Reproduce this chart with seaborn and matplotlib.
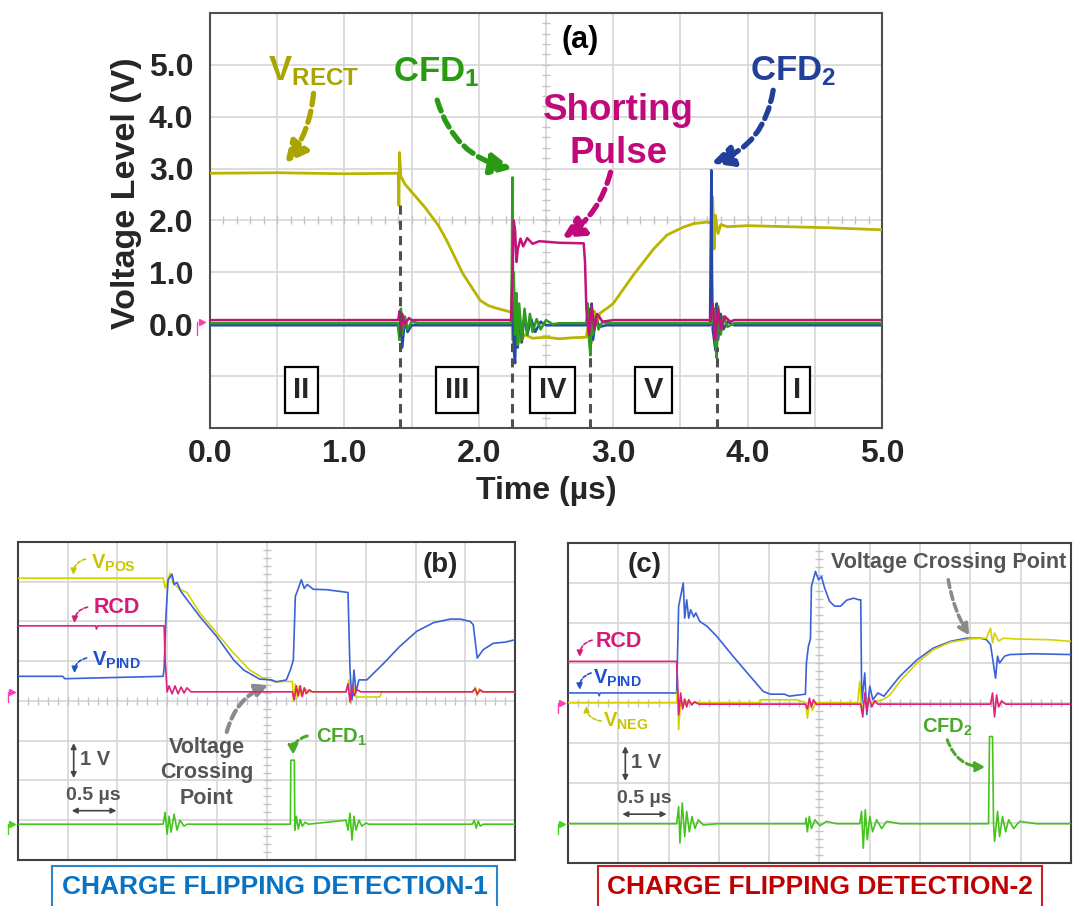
import numpy as np
import pandas as pd
import matplotlib
matplotlib.use("Agg")
import matplotlib.pyplot as plt
import matplotlib.transforms as mtransforms
import seaborn as sns

# ---------------- panel (a): time (us) / voltage (V) ----------------
a_rect_t = [0.00, 0.50, 1.00, 1.40, 1.405, 1.41, 1.42, 1.45, 1.51, 1.60, 1.70, 1.76, 1.82, 1.88,
            1.95, 2.01, 2.07, 2.13, 2.23, 2.245, 2.25, 2.26, 2.27, 2.29, 2.31, 2.34, 2.40, 2.50,
            2.60, 2.70, 2.80, 2.82, 2.84, 2.86, 2.88, 2.90, 2.95, 3.00, 3.15, 3.30, 3.40, 3.52,
            3.60, 3.70, 3.73, 3.74, 3.75, 3.76, 3.78, 3.80, 3.85, 4.00, 4.30, 4.60, 4.80, 5.00]
a_rect_v = [2.91, 2.92, 2.90, 2.91, 2.29, 3.31, 2.85, 2.70, 2.52, 2.25, 1.90, 1.62, 1.30, 0.98,
            0.70, 0.46, 0.36, 0.31, 0.24, 0.22, -0.30, 0.10, -0.45, -0.10, -0.35, -0.20, -0.27, -0.25,
            -0.28, -0.26, -0.25, 0.10, -0.35, 0.25, 0.00, 0.21, 0.30, 0.40, 0.95, 1.45, 1.72, 1.87,
            1.94, 1.97, 1.95, 2.45, 1.45, 2.10, 1.75, 1.92, 1.88, 1.90, 1.88, 1.86, 1.84, 1.82]

a_pulse_t = [0.00, 1.40, 1.41, 1.42, 1.43, 1.45, 1.48, 1.50, 2.24, 2.25, 2.26, 2.27, 2.28, 2.29,
             2.31, 2.33, 2.36, 2.40, 2.45, 2.60, 2.78, 2.79, 2.80, 2.82, 2.84, 2.86, 2.88, 2.92,
             3.00, 3.72, 3.74, 3.76, 3.78, 3.80, 3.83, 3.87, 3.90, 5.00]
a_pulse_v = [0.08, 0.08, 0.25, -0.15, 0.20, 0.00, 0.12, 0.08, 0.08, 1.00, 2.00, 1.80, 1.20, 1.45,
             1.65, 1.50, 1.66, 1.55, 1.60, 1.57, 1.56, 1.20, 0.30, -0.20, 0.35, -0.10, 0.20, 0.05,
             0.08, 0.08, 0.40, -0.30, 0.30, -0.10, 0.15, 0.05, 0.08, 0.08]

a_cfd1_t = [0.00, 1.40, 1.41, 1.42, 1.43, 1.45, 1.47, 1.50, 1.55, 2.24, 2.245, 2.25, 2.255, 2.26,
            2.27, 2.28, 2.29, 2.30, 2.32, 2.34, 2.36, 2.38, 2.40, 2.43, 2.46, 2.50, 2.55, 2.60,
            2.80, 2.81, 2.82, 2.83, 2.84, 2.85, 2.87, 2.89, 2.92, 2.95, 3.74, 3.75, 3.76, 3.77,
            3.78, 3.80, 3.82, 3.85, 3.90, 5.00]
a_cfd1_v = [0.02, 0.02, -0.30, 0.30, -0.20, 0.15, -0.10, 0.05, 0.02, 0.02, 1.00, 2.83, 0.50, 1.00,
            -0.20, 0.60, -0.40, 0.40, -0.30, 0.30, -0.20, 0.20, -0.15, 0.10, -0.10, 0.08, 0.00, 0.02,
            0.02, 0.40, -0.30, -0.60, 0.35, -0.20, 0.15, -0.10, 0.05, 0.02, 0.02, 0.30, -0.40, -0.65,
            0.35, -0.20, 0.15, -0.05, 0.02, 0.02]

a_cfd2_t = [0.00, 1.40, 1.41, 1.42, 1.43, 1.45, 1.47, 1.50, 2.24, 2.25, 2.26, 2.27, 2.28, 2.29,
            2.30, 2.32, 2.34, 2.36, 2.39, 2.42, 2.46, 2.50, 2.80, 2.82, 2.83, 2.84, 2.85, 2.87,
            2.90, 2.95, 3.72, 3.725, 3.73, 3.735, 3.74, 3.76, 3.77, 3.78, 3.80, 3.82, 3.85, 3.90, 5.00]
a_cfd2_v = [-0.02, -0.02, -0.30, 0.25, -0.45, 0.10, -0.15, -0.02, -0.02, 0.50, -0.50, -0.75, 0.30, -0.45,
            0.25, -0.35, 0.20, -0.20, 0.10, -0.15, 0.05, -0.02, -0.02, 0.30, -0.55, 0.40, -0.30, 0.10,
            -0.05, -0.02, -0.02, 1.50, 2.97, 1.00, -0.10, -0.50, 0.40, -0.30, 0.20, -0.10, 0.05, -0.02, -0.02]

a_split_t = [1.41, 2.25, 2.83, 3.77]
a_split_top = [2.29, -0.37, -0.64, -0.44]
a_regions = ["II", "III", "IV", "V", "I"]
a_region_t = [0.68, 1.84, 2.55, 3.30, 4.37]
a_xticks = [0.0, 1.0, 2.0, 3.0, 4.0, 5.0]
a_yticks = [0.0, 1.0, 2.0, 3.0, 4.0, 5.0]

# ---------------- panel (b): time (us) / volts, 1 V per div ----------------
b_pos_t = [0.00, 1.46, 1.48, 1.50, 1.53, 1.56, 1.63, 1.70, 1.83, 2.00, 2.17, 2.33, 2.47, 2.57,
           2.76, 2.77, 2.79, 2.81, 2.83, 2.85, 2.88, 2.92, 3.30, 3.33, 3.35, 3.37, 3.40, 3.45,
           3.64, 3.66, 4.58, 4.60, 4.62, 4.64, 4.66, 5.00]
b_pos_v = [2.86, 2.86, 2.61, 2.75, 2.99, 2.74, 2.57, 2.50, 1.98, 1.48, 0.97, 0.55, 0.34, 0.26,
           0.26, -0.25, 0.20, -0.15, 0.15, -0.10, 0.10, 0.00, 0.00, 0.30, -0.30, 0.20, -0.13, -0.13,
           -0.13, 0.00, 0.00, 0.12, -0.10, 0.08, 0.00, 0.00]

b_pind_t = [0.00, 0.45, 0.47, 1.46, 1.47, 1.49, 1.51, 1.55, 1.57, 1.60, 1.64, 1.83, 2.00, 2.17,
            2.27, 2.43, 2.55, 2.60, 2.70, 2.74, 2.77, 2.79, 2.82, 2.85, 2.88, 2.91, 2.97, 3.10,
            3.32, 3.34, 3.36, 3.38, 3.40, 3.43, 3.51, 3.68, 3.84, 4.01, 4.18, 4.35, 4.45, 4.55,
            4.58, 4.62, 4.68, 4.78, 4.90, 5.00]
b_pind_v = [0.39, 0.39, 0.33, 0.39, 0.60, 2.00, 2.82, 2.96, 2.70, 2.75, 2.52, 1.89, 1.39, 0.80,
            0.55, 0.32, 0.30, 0.25, 0.30, 0.55, 0.80, 2.40, 2.60, 2.82, 2.60, 2.70, 2.58, 2.57,
            2.50, 0.55, -0.20, 0.55, 0.00, 0.30, 0.30, 0.72, 1.14, 1.52, 1.74, 1.83, 1.83, 1.77,
            1.69, 0.85, 1.06, 1.22, 1.25, 1.31]

b_rcd_t = [0.00, 0.78, 0.79, 0.80, 1.47, 1.48, 1.50, 1.52, 1.55, 1.58, 1.61, 1.64, 1.67, 1.70,
           1.74, 1.80, 2.76, 2.78, 2.80, 2.82, 2.84, 2.86, 2.88, 2.90, 2.93, 2.96, 3.00, 3.30,
           3.32, 3.34, 3.36, 3.38, 3.41, 3.45, 4.57, 4.60, 4.62, 4.65, 4.68, 5.00]
b_rcd_v = [1.66, 1.66, 1.58, 1.66, 1.66, 0.80, 0.00, 0.15, -0.05, 0.15, -0.05, 0.12, -0.03, 0.10,
           0.00, 0.00, 0.00, -0.20, 0.15, -0.10, 0.15, -0.12, 0.10, -0.05, 0.05, 0.00, 0.00, 0.00,
           0.20, -0.25, 0.15, -0.10, 0.05, 0.00, 0.00, 0.08, -0.06, 0.05, 0.00, 0.00]

b_cfd_t = [0.00, 1.46, 1.48, 1.50, 1.52, 1.54, 1.57, 1.60, 1.63, 1.67, 1.70, 2.74, 2.745, 2.78,
           2.785, 2.80, 2.82, 2.84, 2.86, 2.89, 2.92, 3.30, 3.32, 3.34, 3.36, 3.38, 3.40, 3.43,
           3.46, 3.50, 3.53, 4.57, 4.59, 4.61, 4.63, 4.65, 4.68, 5.00]
b_cfd_v = [0.00, 0.00, 0.30, -0.25, 0.20, -0.20, 0.25, -0.15, 0.10, -0.05, 0.00, 0.00, 1.61, 1.61,
           -0.15, 0.20, -0.12, 0.12, -0.05, 0.05, 0.00, 0.10, -0.15, 0.28, -0.40, 0.20, -0.15, 0.10,
           -0.05, 0.03, 0.00, 0.00, 0.10, -0.10, 0.08, -0.05, 0.00, 0.00]

# ---------------- panel (c) ----------------
c_rcd_t = [0.00, 1.08, 1.09, 1.10, 1.12, 1.14, 1.16, 1.18, 1.20, 1.23, 1.26, 1.30, 2.36, 2.38,
           2.40, 2.42, 2.44, 2.47, 2.50, 2.91, 2.93, 2.95, 2.97, 2.99, 3.02, 3.05, 3.08, 3.12,
           4.20, 4.22, 4.24, 4.26, 4.28, 4.31, 4.35, 5.00]
c_rcd_v = [1.04, 1.04, 0.50, -0.30, 0.25, -0.15, 0.10, -0.10, 0.08, -0.05, 0.03, -0.03, -0.03, -0.15,
           0.12, -0.10, 0.08, -0.04, -0.03, -0.03, -0.35, 0.25, -0.20, 0.15, -0.10, 0.06, -0.03, -0.03,
           -0.03, 0.25, -0.35, 0.20, -0.10, 0.05, -0.03, -0.03]

c_pind_t = [0.00, 0.30, 0.31, 0.32, 1.08, 1.10, 1.12, 1.146, 1.16, 1.18, 1.20, 1.22, 1.25, 1.27,
            1.31, 1.38, 1.478, 1.64, 1.81, 1.94, 2.01, 2.15, 2.20, 2.36, 2.37, 2.39, 2.41, 2.42,
            2.46, 2.49, 2.52, 2.55, 2.60, 2.65, 2.71, 2.77, 2.84, 2.89, 2.91, 2.92, 2.95, 2.97,
            3.00, 3.03, 3.08, 3.14, 3.30, 3.47, 3.63, 3.80, 3.96, 4.10, 4.16, 4.20, 4.25, 4.27,
            4.29, 4.34, 4.39, 4.62, 5.00]
c_pind_v = [0.25, 0.25, 0.18, 0.25, 0.25, 2.42, 2.67, 3.00, 2.12, 2.58, 2.12, 2.33, 2.15, 2.25,
            2.04, 1.92, 1.67, 1.17, 0.67, 0.29, 0.22, 0.22, 0.17, 0.22, 1.00, 1.42, 1.60, 2.92,
            3.29, 3.08, 3.16, 2.88, 2.54, 2.42, 2.42, 2.57, 2.62, 2.58, 2.58, 0.00, 0.75, -0.29,
            0.42, 0.08, 0.25, 0.17, 0.67, 1.08, 1.37, 1.54, 1.62, 1.62, 1.58, 1.46, 0.62, 1.17,
            1.00, 1.17, 1.21, 1.23, 1.21]

c_neg_t = [0.00, 1.08, 1.09, 1.10, 1.12, 1.14, 1.17, 1.20, 1.91, 1.92, 2.27, 2.36, 2.38, 2.40,
           2.43, 2.46, 2.88, 2.90, 2.92, 2.95, 3.00, 3.13, 3.20, 3.30, 3.47, 3.63, 3.80, 3.99,
           4.16, 4.20, 4.22, 4.24, 4.28, 4.33, 4.45, 4.80, 5.00]
c_neg_v = [0.01, 0.01, 0.33, -0.67, 0.10, -0.10, 0.05, 0.01, 0.01, 0.08, 0.08, 0.01, -0.38, 0.05,
           -0.18, 0.01, 0.01, 0.54, -0.18, 0.08, 0.01, 0.08, 0.20, 0.54, 1.00, 1.33, 1.52, 1.60,
           1.62, 1.87, 1.50, 1.75, 1.55, 1.62, 1.60, 1.58, 1.54]

c_cfd_t = [0.00, 1.08, 1.10, 1.113, 1.136, 1.16, 1.18, 1.206, 1.233, 1.262, 1.295, 1.345, 1.478,
           2.36, 2.366, 2.379, 2.399, 2.42, 2.455, 2.505, 2.57, 2.67, 2.90, 2.918, 2.935, 2.955,
           2.975, 3.00, 3.028, 3.068, 3.118, 3.168, 3.30, 4.18, 4.19, 4.22, 4.23, 4.24, 4.27,
           4.29, 4.32, 4.35, 4.38, 4.43, 4.49, 4.66, 5.00]
c_cfd_v = [0.00, 0.00, 0.43, -0.48, 0.52, -0.32, 0.31, -0.20, 0.18, -0.12, 0.10, -0.03, 0.00,
           0.00, 0.14, -0.20, 0.18, -0.12, 0.10, -0.05, 0.06, 0.00, 0.00, 0.31, -0.61, 0.35,
           -0.40, 0.18, -0.20, 0.10, -0.12, 0.06, 0.00, 0.00, 2.18, 2.18, 0.00, -0.44, 0.31,
           -0.32, 0.18, -0.20, 0.10, -0.12, 0.06, 0.00, 0.00]

# ---------------- style ----------------
sns.set_style("white")
plt.rcParams["font.family"] = ["Liberation Sans", "DejaVu Sans"]
plt.rcParams["font.weight"] = "bold"
plt.rcParams["mathtext.fontset"] = "custom"
plt.rcParams["mathtext.rm"] = "Liberation Sans:bold"
plt.rcParams["mathtext.it"] = "Liberation Sans:bold"
plt.rcParams["mathtext.bf"] = "Liberation Sans:bold"

GRID = "#d6d6d6"
GRAY = "#555555"


def draw_trace(ax, t, v, color, lw, offset=0.0, z=3):
    df = pd.DataFrame({"t": t, "v": np.asarray(v, dtype=float) + offset})
    sns.lineplot(data=df, x="t", y="v", ax=ax, color=color, lw=lw,
                 sort=False, estimator=None, zorder=z)


def scope_frame(ax, ylo, yhi, yc, edge):
    ax.set_xlim(0, 5)
    ax.set_ylim(ylo, yhi)
    ax.set_xticks(np.arange(0, 5.01, 0.5))
    ax.set_yticks(np.arange(ylo, yhi + 0.01, 1.0))
    ax.grid(True, color=GRID, lw=1.2, zorder=0)
    ax.tick_params(length=0)
    for s in ax.spines.values():
        s.set_color(edge)
        s.set_linewidth(1.5)
    # scope centre-line marks
    xs = np.arange(0.1, 5.0, 0.1)
    ax.plot(xs, np.full(len(xs), yc), ls="none", marker="|", ms=6, color="#c4c4c4", zorder=1)
    ys = np.arange(ylo + 0.2, yhi, 0.2)
    ax.plot(np.full(len(ys), 2.5), ys, ls="none", marker="_", ms=6, color="#c4c4c4", zorder=1)


def ground(ax, y, color):
    tr = mtransforms.blended_transform_factory(ax.transAxes, ax.transData)
    ax.plot([-0.012], [y], marker=">", ms=5, color=color, transform=tr, clip_on=False)
    ax.plot([-0.02, -0.02], [y, y - 0.25], color=color, lw=1, transform=tr, clip_on=False)


def curved(ax, text_xy, tip_xy, color, rad, lw, ms):
    ax.annotate("", xy=tip_xy, xytext=text_xy,
                arrowprops=dict(arrowstyle="-|>", color=color, lw=lw, ls=(0, (2.2, 1.2)),
                                connectionstyle=f"arc3,rad={rad}", mutation_scale=ms,
                                shrinkA=0, shrinkB=0))


fig = plt.figure(figsize=(10.86, 9.06), dpi=100)

# ================= (a) =================
ax = fig.add_axes([0.1934, 0.5276, 0.6188, 0.4581])
scope_frame(ax, -2, 6, 2.0, "#505050")
draw_trace(ax, a_rect_t, a_rect_v, "#b8b400", 2.0, z=3)
draw_trace(ax, a_cfd2_t, a_cfd2_v, "#2447a8", 1.8, z=4)
draw_trace(ax, a_cfd1_t, a_cfd1_v, "#2e9c1c", 1.8, z=5)
draw_trace(ax, a_pulse_t, a_pulse_v, "#c4127c", 1.8, z=6)
ground(ax, 0.05, "#ff3fb0")

xt = np.arange(0, 5.01, 0.5)
ax.set_xticklabels([f"{x:.1f}" if x in a_xticks else "" for x in xt],
                   fontsize=23, fontweight="bold")
yt = np.arange(-2, 6.01, 1.0)
ax.set_yticklabels([f"{y:.1f}" if y in a_yticks else "" for y in yt],
                   fontsize=23, fontweight="bold")
ax.tick_params(axis="x", pad=8)
ax.tick_params(axis="y", pad=12)
ax.set_xlabel("Time (µs)", fontsize=23, fontweight="bold", labelpad=5)
ax.set_ylabel("Voltage Level (V)", fontsize=24.5, fontweight="bold")
ax.yaxis.set_label_coords(-0.101, 0.566)

ax.vlines(a_split_t, -2, a_split_top, colors="#505050", linestyles=(0, (3, 2)), lw=2.2, zorder=7)
for lab, tc in zip(a_regions, a_region_t):
    ax.text(tc, -1.27, lab, ha="center", va="center", fontsize=21, fontweight="bold",
            bbox=dict(boxstyle="square,pad=0.3", fc="white", ec="black", lw=1.6), zorder=8)

ax.text(2.75, 5.47, "(a)", ha="center", va="center", fontsize=22, fontweight="bold", color="black")
ax.text(0.77, 4.88, r"$\mathregular{V_{RECT}}$", ha="center", va="center", fontsize=25, color="#aaa400")
ax.text(1.68, 4.86, r"$\mathregular{CFD_{1}}$", ha="center", va="center", fontsize=25, color="#2a9a12")
ax.text(3.04, 3.70, "Shorting\nPulse", ha="center", va="center", fontsize=26.5, fontweight="bold",
        color="#c0097a", linespacing=1.28)
ax.text(4.34, 4.88, r"$\mathregular{CFD_{2}}$", ha="center", va="center", fontsize=25, color="#22409a")

curved(ax, (0.77, 4.45), (0.56, 3.10), "#aaa400", -0.15, 3.8, 32)
curved(ax, (1.69, 4.32), (2.25, 3.00), "#2a9a12", 0.3, 3.8, 32)
curved(ax, (2.98, 2.93), (2.62, 1.66), "#c0097a", -0.2, 3.8, 32)
curved(ax, (4.19, 4.51), (3.73, 3.10), "#22409a", -0.3, 3.8, 32)

# ================= (b) =================
B_UP, B_LO = 4.23, 0.90
bx = fig.add_axes([0.0166, 0.0508, 0.4576, 0.3510])
scope_frame(bx, 0, 8, 4.0, "#404040")
draw_trace(bx, b_pos_t, b_pos_v, "#d6d200", 1.2, B_UP, z=3)
draw_trace(bx, b_pind_t, b_pind_v, "#3a62d8", 1.2, B_UP, z=4)
draw_trace(bx, b_rcd_t, b_rcd_v, "#e0207a", 1.2, B_UP, z=5)
draw_trace(bx, b_cfd_t, b_cfd_v, "#46c41e", 1.2, B_LO, z=5)
ground(bx, B_UP, "#ff3fb0")
ground(bx, B_LO, "#46d41e")
bx.set_xticklabels([])
bx.set_yticklabels([])
bx.set_xlabel("")
bx.set_ylabel("")

bx.text(4.25, 7.42, "(b)", ha="center", va="center", fontsize=20, fontweight="bold")
bx.text(0.73, 7.47, r"$\mathregular{V_{POS}}$", ha="left", va="center", fontsize=14.5, color="#c8c400")
bx.text(0.76, 6.34, "RCD", ha="left", va="center", fontsize=15.5, fontweight="bold", color="#d61a78")
bx.text(0.74, 5.03, r"$\mathregular{V_{PIND}}$", ha="left", va="center", fontsize=14.5, color="#1f4fd0")
bx.text(1.90, 2.19, "Voltage\nCrossing\nPoint", ha="center", va="center", fontsize=15.5,
        fontweight="bold", color=GRAY, linespacing=1.3)
bx.text(3.00, 3.09, r"$\mathregular{CFD_{1}}$", ha="left", va="center", fontsize=14.5, color="#4aa82a")
curved(bx, (0.68, 7.57), (0.56, 7.17), "#c8c400", 0.4, 1.2, 9)
curved(bx, (0.70, 6.36), (0.57, 5.96), "#d61a78", 0.4, 1.2, 9)
curved(bx, (0.69, 5.08), (0.57, 4.70), "#1f4fd0", 0.4, 1.2, 9)
curved(bx, (2.10, 3.22), (2.52, 4.40), "#8a8a8a", -0.25, 3.0, 18)
curved(bx, (2.91, 3.12), (2.77, 2.64), "#4aa82a", 0.4, 2.2, 14)
bx.annotate("", xy=(0.56, 2.06), xytext=(0.56, 2.94),
            arrowprops=dict(arrowstyle="<|-|>", color="#444444", lw=1.2, mutation_scale=8,
                            shrinkA=0, shrinkB=0))
bx.text(0.62, 2.54, "1 V", ha="left", va="center", fontsize=14.5, fontweight="bold", color=GRAY)
bx.text(0.76, 1.61, "0.5 µs", ha="center", va="center", fontsize=14, fontweight="bold", color=GRAY)
bx.annotate("", xy=(0.99, 1.24), xytext=(0.54, 1.24),
            arrowprops=dict(arrowstyle="<|-|>", color="#444444", lw=1.2, mutation_scale=8,
                            shrinkA=0, shrinkB=0))

# ================= (c) =================
C_UP, C_LO = 4.0, 0.98
cx = fig.add_axes([0.5230, 0.0475, 0.4632, 0.3532])
scope_frame(cx, 0, 8, 4.0, "#404040")
draw_trace(cx, c_pind_t, c_pind_v, "#3a62d8", 1.2, C_UP, z=3)
draw_trace(cx, c_neg_t, c_neg_v, "#d6d200", 1.2, C_UP, z=4)
draw_trace(cx, c_rcd_t, c_rcd_v, "#e0207a", 1.2, C_UP, z=5)
draw_trace(cx, c_cfd_t, c_cfd_v, "#46c41e", 1.2, C_LO, z=5)
ground(cx, C_UP, "#ff3fb0")
ground(cx, C_LO, "#46d41e")
cx.set_xticklabels([])
cx.set_yticklabels([])
cx.set_xlabel("")
cx.set_ylabel("")

cx.text(0.76, 7.45, "(c)", ha="center", va="center", fontsize=20, fontweight="bold")
cx.text(3.78, 7.50, "Voltage Crossing Point", ha="center", va="center", fontsize=15.5,
        fontweight="bold", color=GRAY)
cx.text(0.27, 5.53, "RCD", ha="left", va="center", fontsize=15.5, fontweight="bold", color="#d61a78")
cx.text(0.25, 4.62, r"$\mathregular{V_{PIND}}$", ha="left", va="center", fontsize=14.5, color="#1f4fd0")
cx.text(0.35, 3.53, r"$\mathregular{V_{NEG}}$", ha="left", va="center", fontsize=14.5, color="#c8c400")
cx.text(3.52, 3.40, r"$\mathregular{CFD_{2}}$", ha="left", va="center", fontsize=14.5, color="#4aa82a")
curved(cx, (0.24, 5.57), (0.12, 5.15), "#d61a78", 0.4, 1.2, 9)
curved(cx, (0.23, 4.75), (0.12, 4.33), "#1f4fd0", 0.4, 1.2, 9)
curved(cx, (0.33, 3.55), (0.18, 3.93), "#c8c400", -0.4, 1.2, 9)
curved(cx, (3.78, 7.08), (3.99, 5.68), "#8a8a8a", 0.1, 2.6, 16)
curved(cx, (3.77, 3.08), (4.15, 2.40), "#4aa82a", 0.35, 2.2, 14)
cx.annotate("", xy=(0.57, 2.05), xytext=(0.57, 2.92),
            arrowprops=dict(arrowstyle="<|-|>", color="#444444", lw=1.2, mutation_scale=8,
                            shrinkA=0, shrinkB=0))
cx.text(0.63, 2.50, "1 V", ha="left", va="center", fontsize=14.5, fontweight="bold", color=GRAY)
cx.text(0.76, 1.62, "0.5 µs", ha="center", va="center", fontsize=14, fontweight="bold", color=GRAY)
cx.annotate("", xy=(0.98, 1.22), xytext=(0.54, 1.22),
            arrowprops=dict(arrowstyle="<|-|>", color="#444444", lw=1.2, mutation_scale=8,
                            shrinkA=0, shrinkB=0))

# ---------------- captions ----------------
fig.text(0.2528, 0.021, "CHARGE FLIPPING DETECTION-1", ha="center", va="center", fontsize=19,
         fontweight="bold", color="#0a72c2",
         bbox=dict(boxstyle="square,pad=0.35", fc="white", ec="#2a86cc", lw=1.5))
fig.text(0.755, 0.021, "CHARGE FLIPPING DETECTION-2", ha="center", va="center", fontsize=19,
         fontweight="bold", color="#c00000",
         bbox=dict(boxstyle="square,pad=0.35", fc="white", ec="#c82020", lw=1.5))

fig.savefig("out.png", dpi=100, facecolor="white")
